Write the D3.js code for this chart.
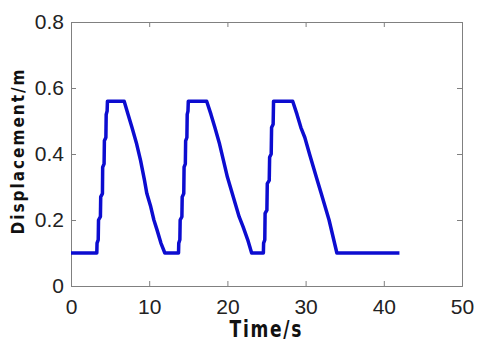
<!DOCTYPE html>
<html>
<head>
<meta charset="UTF-8">
<script src="https://d3js.org/d3.v7.min.js"></script>
<style>
  body { margin: 0; background: #fff; }
  svg { display: block; }
  .tick-label { font-family: "Liberation Sans", Arial, sans-serif; font-size: 21px; fill: #222; }
  .axis-title { font-family: "DejaVu Sans Condensed", "DejaVu Sans", sans-serif; font-weight: bold; fill: #111; }
</style>
</head>
<body>
<svg width="482" height="344"></svg>
<script>
// data
const time = [
  0, 3.30, 3.33, 3.48, 3.52, 3.76, 3.80, 4.02, 4.05, 4.23, 4.27, 4.46, 4.50, 4.62, 4.66,
  6.80, 7.3, 7.8, 8.4, 8.9, 9.4, 9.7, 10.2, 10.6, 11.0, 11.5, 12.0,
  13.75, 13.78, 13.92, 13.96, 14.18, 14.22, 14.42, 14.46, 14.62, 14.66, 14.82, 14.86, 14.96, 15.0,
  17.35, 17.9, 18.4, 19.0, 19.5, 20.0, 20.5, 21.0, 21.5, 22.0, 22.6, 23.1,
  24.6, 24.63, 24.78, 24.82, 25.05, 25.1, 25.35, 25.4, 25.6, 25.65, 25.85, 25.9,
  28.35, 28.9, 29.4, 29.9, 30.5, 31.0, 31.5, 32.0, 32.5, 33.0, 33.5, 34.0,
  42.0
];
const displacement = [
  0.10, 0.10, 0.13, 0.14, 0.20, 0.21, 0.27, 0.28, 0.36, 0.37, 0.44, 0.45, 0.52, 0.53, 0.56,
  0.56, 0.52, 0.48, 0.43, 0.38, 0.32, 0.28, 0.24, 0.20, 0.17, 0.13, 0.10,
  0.10, 0.13, 0.14, 0.20, 0.21, 0.27, 0.28, 0.36, 0.37, 0.44, 0.45, 0.52, 0.53, 0.56,
  0.56, 0.52, 0.48, 0.43, 0.38, 0.33, 0.29, 0.25, 0.21, 0.18, 0.14, 0.10,
  0.10, 0.13, 0.14, 0.22, 0.23, 0.31, 0.32, 0.39, 0.40, 0.48, 0.49, 0.56,
  0.56, 0.52, 0.48, 0.45, 0.40, 0.36, 0.32, 0.28, 0.24, 0.20, 0.15, 0.10,
  0.10
];
const xTicks = [0, 10, 20, 30, 40, 50];
const yTicks = [0, 0.2, 0.4, 0.6, 0.8];
const yTickLabels = ["0", "0.2", "0.4", "0.6", "0.8"];

const margin = { left: 71, top: 22, right: 20, bottom: 58 };
const width = 482, height = 344;

const svg = d3.select("svg");

const x = d3.scaleLinear().domain([0, 50]).range([margin.left, width - margin.right]);
const y = d3.scaleLinear().domain([0, 0.8]).range([height - margin.bottom, margin.top]);

const frameColor = "#808080";

// bottom axis
const gx = svg.append("g")
  .attr("transform", `translate(0,${y(0)})`)
  .call(d3.axisBottom(x).tickValues(xTicks).tickSize(-5).tickPadding(9).tickFormat(d3.format("d")));
// left axis
const gy = svg.append("g")
  .attr("transform", `translate(${x(0)},0)`)
  .call(d3.axisLeft(y).tickValues(yTicks).tickSize(-5).tickPadding(7).tickFormat((d, i) => yTickLabels[i]));
// top and right (ticks only)
const gt = svg.append("g")
  .attr("transform", `translate(0,${y(0.8)})`)
  .call(d3.axisTop(x).tickValues(xTicks).tickSize(-5).tickFormat(""));
const gr = svg.append("g")
  .attr("transform", `translate(${x(50)},0)`)
  .call(d3.axisRight(y).tickValues(yTicks).tickSize(-5).tickFormat(""));

[gx, gy, gt, gr].forEach(g => {
  g.select(".domain").attr("stroke", frameColor);
  g.selectAll(".tick line").attr("stroke", frameColor);
  g.selectAll(".tick text").attr("class", "tick-label").attr("font-size", null).attr("font-family", null);
});
gx.selectAll(".tick text").attr("dy", "0.9em");
gy.selectAll(".tick text").attr("dy", "0.3em");

// line
const line = d3.line()
  .x((d, i) => x(time[i]))
  .y(d => y(d));

svg.append("path")
  .datum(displacement)
  .attr("fill", "none")
  .attr("stroke", "#0c0cd0")
  .attr("stroke-width", 3.5)
  .attr("stroke-linejoin", "round")
  .attr("d", line);

// axis titles (narrow, widely spaced letters)
svg.append("text")
  .attr("class", "axis-title")
  .attr("transform", `translate(${(x(20) + x(30)) / 2 - 1},337) scale(1,1.2)`)
  .attr("text-anchor", "middle")
  .attr("font-size", 19)
  .attr("textLength", 72)
  .attr("lengthAdjust", "spacing")
  .text("Time/s");

svg.append("text")
  .attr("class", "axis-title")
  .attr("transform", "translate(24,152) rotate(-90)")
  .attr("text-anchor", "middle")
  .attr("font-size", 17)
  .attr("textLength", 165)
  .attr("lengthAdjust", "spacing")
  .text("Displacement/m");
</script>
</body>
</html>
